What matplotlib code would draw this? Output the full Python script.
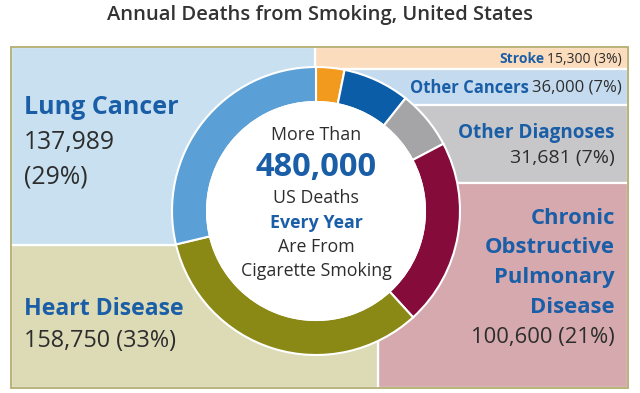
import matplotlib.pyplot as plt
from matplotlib.patches import Rectangle, Circle

plt.rcParams['font.family'] = ['Open Sans', 'DejaVu Sans']

# data (clockwise from 12 o'clock)
causes = ['Stroke', 'Other Cancers', 'Other Diagnoses',
          'Chronic Obstructive Pulmonary Disease', 'Heart Disease', 'Lung Cancer']
deaths = [15300, 36000, 31681, 100600, 158750, 137989]
percents = [3, 7, 7, 21, 33, 29]
total_text = '480,000'

ring_colors = ['#f29a1e', '#0b5da8', '#a5a5a7', '#850b3b', '#8b8915', '#5a9fd5']
panel_colors = ['#fbdcbd', '#c4dbef', '#c7c7c9', '#d5a9ad', '#dddab6', '#c9e0f0']

BLUE = '#1a5ea7'
DARK = '#2d2d2d'

# panel boxes in pixel units: x0, y0, x1, y1
panels = [(315, 47, 628, 69),    # stroke
          (315, 69, 628, 105),   # other cancers
          (315, 105, 628, 183),  # other diagnoses
          (378, 183, 628, 388),  # copd
          (11, 245, 378, 388),   # heart disease
          (11, 47, 315, 245)]    # lung cancer

W, H = 640, 393
fig = plt.figure(figsize=(W / 100, H / 100), dpi=100)
ax = fig.add_axes([0, 0, 1, 1])

for (x0, y0, x1, y1), c in zip(panels, panel_colors):
    ax.add_patch(Rectangle((x0, y0), x1 - x0, y1 - y0, facecolor=c,
                           edgecolor='white', linewidth=1.6, zorder=1))

cx, cy, R, ring_w = 316, 211, 144, 35
# y axis is inverted, so counterclock=True draws clockwise on screen
ax.pie(deaths, colors=ring_colors, startangle=270, counterclock=True,
       radius=R, center=(cx, cy), frame=True,
       wedgeprops=dict(width=ring_w, edgecolor='white', linewidth=1.5, zorder=3))
ax.add_patch(Circle((cx, cy), R - ring_w, facecolor='white', edgecolor='white',
                    linewidth=1.5, zorder=4))

ax.add_patch(Rectangle((11, 47), 617, 341, facecolor='none',
                       edgecolor='#b2ae6e', linewidth=1.3, zorder=6))

ax.set_xlim(0, W)
ax.set_ylim(H, 0)
ax.set_aspect('equal')
ax.axis('off')

fig.text(0.5, 1 - 15 / H, 'Annual Deaths from Smoking, United States',
         ha='center', va='center', fontsize=14.5, fontweight='semibold', color='#333333')


def txt(x, y, s, size, bold=False, color=DARK, ha='left'):
    return ax.text(x, y, s, fontsize=size, fontweight='bold' if bold else 'normal',
                   color=color, ha=ha, va='center', zorder=7)


def two_part(x_right, y, bold_part, plain_part, size):
    # bold name followed by plain number, right aligned at x_right
    t = txt(x_right, y, plain_part, size, ha='right')
    fig.canvas.draw()
    bb = t.get_window_extent().transformed(ax.transData.inverted())
    left = min(bb.x0, bb.x1)
    txt(left - 3, y, bold_part, size, bold=True, color=BLUE, ha='right')


fmt = ['{:,}'.format(d) for d in deaths]

# stroke, other cancers
two_part(622, 59, causes[0], f'{fmt[0]} ({percents[0]}%)', 10)
two_part(622, 88, causes[1], f'{fmt[1]} ({percents[1]}%)', 12)

# other diagnoses
txt(615, 133, causes[2], 13.6, bold=True, color=BLUE, ha='right')
txt(615, 158, f'{fmt[2]} ({percents[2]}%)', 14, ha='right')

# copd
for i, word in enumerate(['Chronic', 'Obstructive', 'Pulmonary', 'Disease']):
    txt(615, 218 + i * 29.7, word, 15.8, bold=True, color=BLUE, ha='right')
txt(615, 337, f'{fmt[3]} ({percents[3]}%)', 15.8, ha='right')

# heart disease
txt(24, 309, causes[4], 16.6, bold=True, color=BLUE)
txt(24, 341, f'{fmt[4]} ({percents[4]}%)', 16.8)

# lung cancer
txt(24, 107, causes[5], 18, bold=True, color=BLUE)
txt(24, 142, fmt[5], 17.8)
txt(24, 177, f'({percents[5]}%)', 17.8)

# centre text
txt(cx, 135, 'More Than', 12.8, ha='center')
txt(cx, 167, total_text, 23.5, bold=True, color=BLUE, ha='center')
txt(cx, 198, 'US Deaths', 12.8, ha='center')
txt(cx, 223, 'Every Year', 12.8, bold=True, color=BLUE, ha='center')
txt(cx, 247, 'Are From', 12.8, ha='center')
txt(cx, 271, 'Cigarette Smoking', 12.8, ha='center')

fig.savefig('out.png', dpi=100)
